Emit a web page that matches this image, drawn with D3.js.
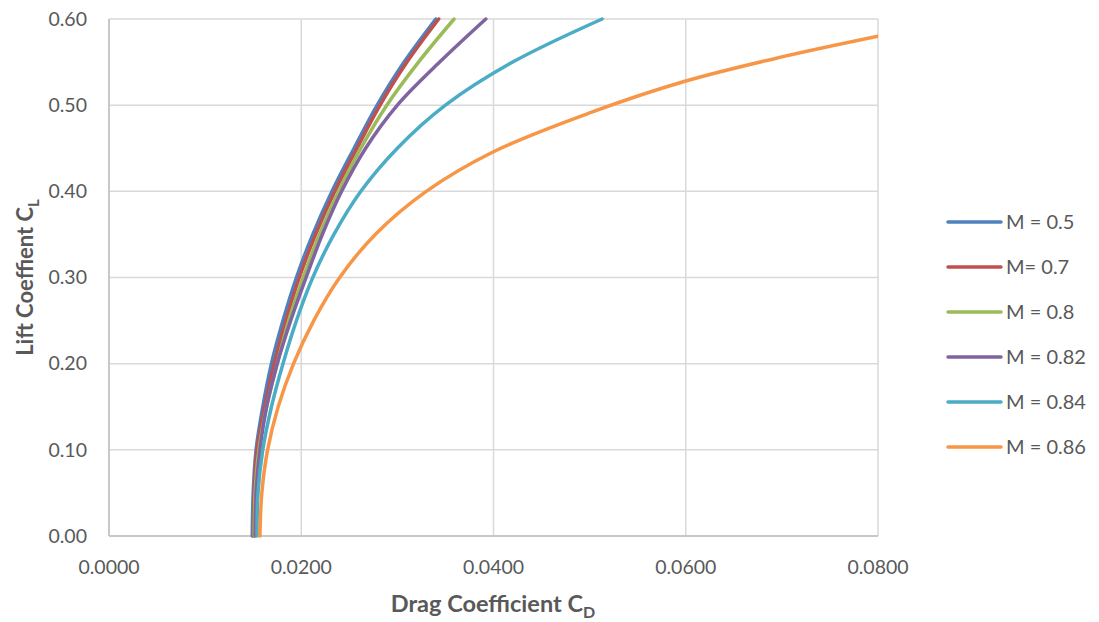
<!DOCTYPE html>
<html>
<head>
<meta charset="utf-8">
<script src="https://cdn.jsdelivr.net/npm/d3@7"></script>
<style>
body { margin: 0; background: #fff; }
text { font-family: Lato, "Open Sans", sans-serif; }
</style>
</head>
<body>
<svg></svg>
<script>
// lift levels
var clLevels = [0, 0.05, 0.10, 0.15, 0.20, 0.25, 0.30, 0.35, 0.40, 0.45, 0.50, 0.55, 0.60]
var cdM050 = [0.0149, 0.0150, 0.0153, 0.0160, 0.0169, 0.0181, 0.0195, 0.0212, 0.0232, 0.0255, 0.0279, 0.0307, 0.0340]
var cdM070 = [0.0150, 0.0151, 0.0154, 0.0162, 0.0172, 0.0184, 0.0198, 0.0215, 0.0235, 0.0258, 0.0282, 0.0310, 0.0343]
var cdM080 = [0.0151, 0.0152, 0.0156, 0.0164, 0.0175, 0.0187, 0.0202, 0.0219, 0.0239, 0.0262, 0.0289, 0.0322, 0.0359]
var cdM082 = [0.0152, 0.0153, 0.0157, 0.0164, 0.0175, 0.0189, 0.0205, 0.0222, 0.0242, 0.0267, 0.0300, 0.0344, 0.0392]
var cdM084 = [0.0154, 0.0155, 0.0160, 0.0169, 0.0181, 0.0195, 0.0212, 0.0234, 0.0262, 0.0300, 0.0350, 0.0420, 0.0513]
// M = 0.86 runs off the right edge, so its own lift levels
var clM086 = [0, 0.05, 0.10, 0.15, 0.20, 0.25, 0.30, 0.35, 0.40, 0.446, 0.491, 0.528, 0.556, 0.580]
var cdM086 = [0.0157, 0.0159, 0.0165, 0.0176, 0.0192, 0.0213, 0.0240, 0.0277, 0.0330, 0.0400, 0.0500, 0.0600, 0.0700, 0.0800]

var seriesNames = ["M = 0.5", "M= 0.7", "M = 0.8", "M = 0.82", "M = 0.84", "M = 0.86"]
var seriesColors = ["#4F81BD", "#C0504D", "#9BBB59", "#8064A2", "#4BACC6", "#F79646"]
var xTicks = [0, 0.02, 0.04, 0.06, 0.08]
var yTicks = [0, 0.1, 0.2, 0.3, 0.4, 0.5, 0.6]

var screen = {width: 1099, height: 622}
var plot = {left: 109, right: 878, top: 19, bottom: 536}

var makeSeries = function(cls, cds) {
    return cls.map(function(c, i) { return {cl: c, cd: cds[i]} })
}
var allSeries = [
    makeSeries(clLevels, cdM050),
    makeSeries(clLevels, cdM070),
    makeSeries(clLevels, cdM080),
    makeSeries(clLevels, cdM082),
    makeSeries(clLevels, cdM084),
    makeSeries(clM086, cdM086)
]

var svg = d3.select("svg")
    .attr("width", screen.width)
    .attr("height", screen.height)

var xScale = d3.scaleLinear().domain([0, 0.08]).range([plot.left, plot.right])
var yScale = d3.scaleLinear().domain([0, 0.6]).range([plot.bottom, plot.top])

// grid
svg.append("g")
    .selectAll("line.v")
    .data(xTicks)
    .enter()
    .append("line")
    .attr("x1", function(d) { return xScale(d) })
    .attr("x2", function(d) { return xScale(d) })
    .attr("y1", plot.top)
    .attr("y2", plot.bottom)
    .attr("stroke", "#D9D9D9")
    .attr("stroke-width", 1.5)

svg.append("g")
    .selectAll("line.h")
    .data(yTicks)
    .enter()
    .append("line")
    .attr("x1", plot.left)
    .attr("x2", plot.right)
    .attr("y1", function(d) { return yScale(d) })
    .attr("y2", function(d) { return yScale(d) })
    .attr("stroke", "#D9D9D9")
    .attr("stroke-width", 1.5)

// axis lines
svg.append("line")
    .attr("x1", plot.left).attr("x2", plot.left)
    .attr("y1", plot.top).attr("y2", plot.bottom)
    .attr("stroke", "#BFBFBF").attr("stroke-width", 1.5)
svg.append("line")
    .attr("x1", plot.left).attr("x2", plot.right)
    .attr("y1", plot.bottom).attr("y2", plot.bottom)
    .attr("stroke", "#BFBFBF").attr("stroke-width", 1.5)

// tick labels
svg.append("g")
    .selectAll("text")
    .data(yTicks)
    .enter()
    .append("text")
    .attr("x", 87)
    .attr("y", function(d) { return yScale(d) })
    .attr("dy", "0.35em")
    .attr("text-anchor", "end")
    .attr("font-size", 19.5)
    .attr("fill", "#595959")
    .text(function(d) { return d3.format(".2f")(d) })

svg.append("g")
    .selectAll("text")
    .data(xTicks)
    .enter()
    .append("text")
    .attr("x", function(d) { return xScale(d) })
    .attr("y", 567)
    .attr("dy", "0.35em")
    .attr("text-anchor", "middle")
    .attr("font-size", 19.5)
    .attr("fill", "#595959")
    .text(function(d) { return d3.format(".4f")(d) })

// axis titles
var xt = svg.append("text")
    .attr("x", 493)
    .attr("y", 612)
    .attr("text-anchor", "middle")
    .attr("font-size", 23.5)
    .attr("font-weight", "bold")
    .attr("fill", "#595959")
xt.append("tspan").text("Drag Coefficient C")
xt.append("tspan").attr("font-size", 16).attr("dy", 6).text("D")

var yt = svg.append("text")
    .attr("transform", "translate(33," + yScale(0.3) + ") rotate(-90)")
    .attr("text-anchor", "middle")
    .attr("font-size", 22)
    .attr("font-weight", "bold")
    .attr("fill", "#595959")
yt.append("tspan").text("Lift Coeffient C")
yt.append("tspan").attr("font-size", 15).attr("dy", 6).text("L")

// curves
svg.append("clipPath").attr("id", "plotclip")
    .append("rect")
    .attr("x", plot.left).attr("y", plot.top - 2)
    .attr("width", plot.right - plot.left).attr("height", plot.bottom - plot.top + 4)

var line = d3.line()
    .x(function(d) { return xScale(d.cd) })
    .y(function(d) { return yScale(d.cl) })
    .curve(d3.curveCatmullRom)

svg.append("g")
    .attr("clip-path", "url(#plotclip)")
    .selectAll("path")
    .data(allSeries)
    .enter()
    .append("path")
    .attr("d", line)
    .attr("fill", "none")
    .attr("stroke", function(d, i) { return seriesColors[i] })
    .attr("stroke-width", 3.5)
    .attr("stroke-linecap", "round")

// legend
var legend = svg.append("g")
    .selectAll("g")
    .data(seriesNames)
    .enter()
    .append("g")
    .attr("transform", function(d, i) { return "translate(948," + (222 + i * 45) + ")" })

legend.append("line")
    .attr("x1", 0).attr("x2", 53)
    .attr("stroke", function(d, i) { return seriesColors[i] })
    .attr("stroke-width", 3.5)
    .attr("stroke-linecap", "round")

legend.append("text")
    .attr("x", 58)
    .attr("dy", "0.35em")
    .attr("font-size", 20)
    .attr("fill", "#595959")
    .text(function(d) { return d })
</script>
</body>
</html>
